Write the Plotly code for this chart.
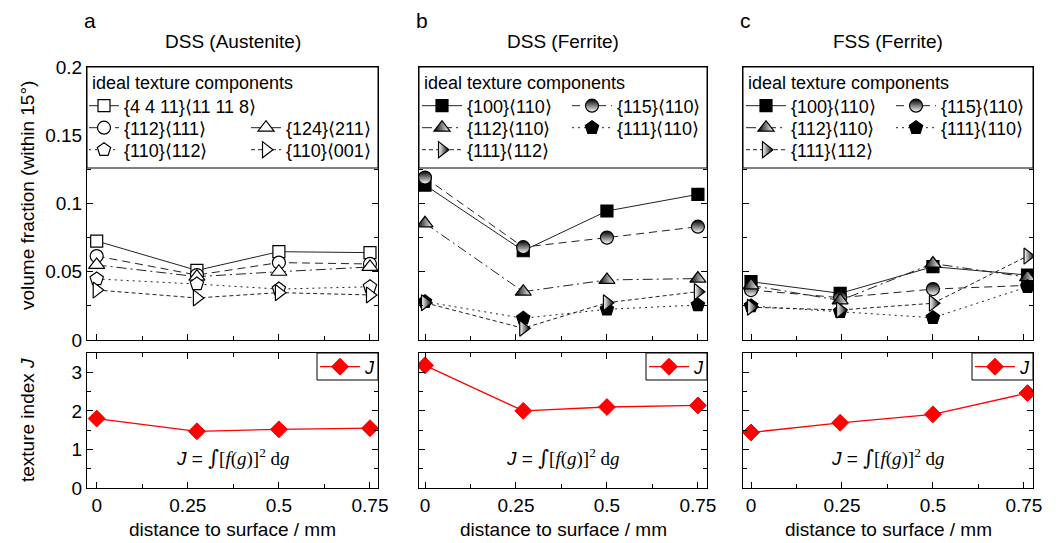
import plotly.graph_objects as go

# page body has an 8px margin, so the figure is drawn 8px lower/right
OFF = 8
W, H = 1058 - OFF, 543 - OFF

# ---------------- data ----------------
dist_a = [0, 0.275, 0.5, 0.75]
dist_b = [0, 0.27, 0.5, 0.75]
dist_c = [0, 0.245, 0.5, 0.76]

names_a = ["{4 4 11}⟨11 11 8⟩", "{112}⟨111⟩", "{124}⟨211⟩", "{110}⟨112⟩", "{110}⟨001⟩"]
names_bc = ["{100}⟨110⟩", "{115}⟨110⟩", "{112}⟨110⟩", "{111}⟨110⟩", "{111}⟨112⟩"]

a_4411_11118 = [0.0725, 0.051, 0.0647, 0.064]
a_112_111 = [0.0615, 0.0476, 0.0567, 0.0557]
a_124_211 = [0.055, 0.0464, 0.050, 0.0535]
a_110_112 = [0.0447, 0.041, 0.0373, 0.039]
a_110_001 = [0.0366, 0.0308, 0.0347, 0.033]

b_100_110 = [0.1135, 0.0654, 0.0945, 0.1067]
b_115_110 = [0.119, 0.068, 0.075, 0.083]
b_112_110 = [0.0855, 0.0354, 0.044, 0.045]
b_111_110 = [0.028, 0.0159, 0.0225, 0.0256]
b_111_112 = [0.0273, 0.0086, 0.0273, 0.0354]

c_100_110 = [0.0427, 0.0342, 0.0537, 0.0476]
c_115_110 = [0.0366, 0.031, 0.0373, 0.040]
c_112_110 = [0.040, 0.029, 0.056, 0.046]
c_111_110 = [0.0249, 0.0207, 0.0163, 0.039]
c_111_112 = [0.024, 0.022, 0.0269, 0.0615]

J_a = [1.80, 1.47, 1.52, 1.55]
J_b = [3.18, 2.00, 2.10, 2.14]
J_c = [1.44, 1.69, 1.91, 2.46]

x_ticks = [0, 0.25, 0.5, 0.75]
x_ticktext = ["0", "0.25", "0.5", "0.75"]
vf_ticks = [0, 0.05, 0.1, 0.15, 0.2]
vf_ticktext = ["0", "0.05", "0.1", "0.15", "0.2"]
j_ticks = [0, 1, 2, 3]
j_ticktext = ["0", "1", "2", "3"]

panel_letters = ["a", "b", "c"]
panel_titles = ["DSS (Austenite)", "DSS (Ferrite)", "FSS (Ferrite)"]

# ---------------- layout geometry (page pixels) ----------------
FONT = "Liberation Sans, Arial, sans-serif"
cols_px = [(87, 378), (419, 707), (743, 1033)]
top_px = (67, 340)
bot_px = (353, 488)
x_ranges = [(-0.0266, 0.772), (-0.0165, 0.775), (-0.022, 0.775)]


def px(x):
    return (x - OFF) / W


def py(y):
    return 1 - (y - OFF) / H


LINE_COL = "#222222"
dashes = ["solid", "8px,5px", "10px,4px,2px,4px", "2px,4px", "4px,3px"]
sym_a = ["square", "circle", "triangle-up", "pentagon", "triangle-right"]
size_a = [12, 13, 14, 14, 14]

fig = go.Figure()

panel_series = [
    (dist_a, [a_4411_11118, a_112_111, a_124_211, a_110_112, a_110_001], names_a, J_a),
    (dist_b, [b_100_110, b_115_110, b_112_110, b_111_110, b_111_112], names_bc, J_b),
    (dist_c, [c_100_110, c_115_110, c_112_110, c_111_110, c_111_112], names_bc, J_c),
]

# legend text start (px from panel left) and row centre (px from top)
leg_rel_a = [(37, 106), (37, 128), (199, 128), (37, 150), (199, 150)]
leg_rel_bc = [(48, 106), (198, 106), (48, 128), (198, 128), (48, 150)]
ITEMW = [30, 40, 40]

legends = {}
leg_count = [1]


def new_legend(**kw):
    leg_count[0] += 1
    key = f"legend{leg_count[0]}"
    legends[key] = kw
    return key


for p, (xs, series, names, J) in enumerate(panel_series):
    top_x = "x" if p == 0 else f"x{2*p+1}"
    top_y = "y" if p == 0 else f"y{2*p+1}"
    bot_x = f"x{2*p+2}"
    bot_y = f"y{2*p+2}"
    rel = leg_rel_a if p == 0 else leg_rel_bc
    left = cols_px[p][0]
    iw = ITEMW[p]
    for i, (vals, name) in enumerate(zip(series, names)):
        if p == 0:
            marker = dict(symbol=sym_a[i], size=size_a[i], color="white",
                          line=dict(color="black", width=1.2))
        else:
            if i == 0:
                marker = dict(symbol="square", size=12, color="black",
                              line=dict(color="black", width=1.2))
            elif i == 1:
                # upper half dark, lower half light
                marker = dict(symbol="circle", size=13, color="black",
                              gradient=dict(type="vertical", color="white"),
                              line=dict(color="black", width=1.2))
            elif i == 2:
                # left half dark, right half light
                marker = dict(symbol="triangle-up", size=14, color="black",
                              gradient=dict(type="horizontal", color="white"),
                              line=dict(color="black", width=1.2))
            elif i == 3:
                marker = dict(symbol="pentagon", size=14, color="black",
                              line=dict(color="black", width=1.2))
            else:
                # left half light, right half dark
                marker = dict(symbol="triangle-right", size=14, color="white",
                              gradient=dict(type="horizontal", color="black"),
                              line=dict(color="black", width=1.2))
        tx, ty = rel[i]
        lg = new_legend(x=px(left + tx - iw - 10), y=py(ty), xanchor="left",
                        yanchor="middle", bgcolor="rgba(0,0,0,0)", borderwidth=0,
                        itemwidth=iw, font=dict(family=FONT, size=18, color="black"),
                        tracegroupgap=0)
        fig.add_trace(go.Scatter(x=xs, y=vals, mode="lines+markers", name=name,
                                 xaxis=top_x, yaxis=top_y, legend=lg,
                                 line=dict(color=LINE_COL, width=1, dash=dashes[i]),
                                 marker=marker))
    # J legend (its box is drawn as a shape below)
    lgJ = new_legend(x=px(cols_px[p][1] - 30), y=py(bot_px[0] + 14), xanchor="center",
                     yanchor="middle", bgcolor="rgba(0,0,0,0)", borderwidth=0, itemwidth=40,
                     font=dict(family=FONT, size=18, color="black"))
    fig.add_trace(go.Scatter(x=xs, y=J, mode="lines+markers", name="<i>J</i>",
                             xaxis=bot_x, yaxis=bot_y, legend=lgJ,
                             line=dict(color="#ff0000", width=1.3),
                             marker=dict(symbol="diamond", size=13, color="#ff0000",
                                         line=dict(color="#ff0000", width=1))))

layout = dict(width=W, height=H, margin=dict(l=0, r=0, t=0, b=0, autoexpand=False),
              autosize=False, showlegend=True,
              paper_bgcolor="white", plot_bgcolor="white",
              font=dict(family=FONT, size=19, color="black"))
layout.update(legends)

axis_common = dict(showline=True, linecolor="black", linewidth=1, mirror="ticks",
                   ticks="inside", ticklen=6, tickwidth=1, tickcolor="black",
                   showgrid=False, zeroline=False,
                   tickfont=dict(family=FONT, size=19, color="black"))

shapes = []
annotations = []
for p in range(3):
    xl, xr = cols_px[p]
    xdom = [px(xl), px(xr)]
    tdom = [py(top_px[1]), py(top_px[0])]
    bdom = [py(bot_px[1]), py(bot_px[0])]
    ti = 2 * p + 1
    bi = 2 * p + 2
    tname_x = "xaxis" if ti == 1 else f"xaxis{ti}"
    tname_y = "yaxis" if ti == 1 else f"yaxis{ti}"
    ty_ref = "y" if ti == 1 else f"y{ti}"
    tx_ref = "x" if ti == 1 else f"x{ti}"
    minor_x = dict(tickvals=[0.125, 0.375, 0.625], ticklen=4, ticks="inside", tickcolor="black")
    layout[tname_x] = dict(axis_common, domain=xdom, range=list(x_ranges[p]), anchor=ty_ref,
                           tickvals=x_ticks, ticktext=x_ticktext, showticklabels=False,
                           minor=minor_x)
    layout[tname_y] = dict(axis_common, domain=tdom, range=[0, 0.2], anchor=tx_ref,
                           tickvals=vf_ticks, ticktext=vf_ticktext, showticklabels=(p == 0),
                           minor=dict(tickvals=[0.025, 0.075, 0.125, 0.175], ticklen=4,
                                      ticks="inside", tickcolor="black"))
    layout[f"xaxis{bi}"] = dict(axis_common, domain=xdom, range=list(x_ranges[p]),
                                anchor=f"y{bi}", tickvals=x_ticks, ticktext=x_ticktext,
                                showticklabels=True, minor=minor_x)
    layout[f"yaxis{bi}"] = dict(axis_common, domain=bdom, range=[0, 3.5], anchor=f"x{bi}",
                                tickvals=j_ticks, ticktext=j_ticktext, showticklabels=(p == 0),
                                minor=dict(tickvals=[0.5, 1.5, 2.5], ticklen=4,
                                           ticks="inside", tickcolor="black"))
    # legend box covering the top of the volume-fraction panel
    shapes.append(dict(type="rect", xref=f"{tx_ref} domain", yref=ty_ref, x0=0, x1=1,
                       y0=0.126, y1=0.2, fillcolor="white", line=dict(color="black", width=1),
                       layer="above"))
    # J legend box (top-right corner of texture index panel)
    shapes.append(dict(type="rect", xref=f"x{bi} domain", yref=f"y{bi} domain",
                       x0=1 - 61 / (xr - xl), x1=1, y0=1 - 27 / (bot_px[1] - bot_px[0]), y1=1,
                       fillcolor="white", line=dict(color="black", width=1), layer="above"))
    annotations.append(dict(text="ideal texture components", xref="paper", yref="paper",
                            x=px(xl + 3), y=py(83), xanchor="left", yanchor="middle",
                            showarrow=False, font=dict(family=FONT, size=18, color="black")))
    annotations.append(dict(text="<i>J</i> = <span style='font-family:DejaVu Serif;font-size:21px'>∫</span>"
                                 "<span style='font-family:Liberation Serif'>[<i>f</i>(<i>g</i>)]<sup>2</sup> d<i>g</i></span>",
                            xref=f"x{bi} domain", yref=f"y{bi}", x=0.5, y=0.8,
                            xanchor="center", yanchor="middle", showarrow=False,
                            font=dict(family=FONT, size=19, color="black")))
    annotations.append(dict(text=panel_titles[p], xref="paper", yref="paper",
                            x=px((xl + xr) / 2), y=py(42), xanchor="center", yanchor="middle",
                            showarrow=False, font=dict(family=FONT, size=19, color="black")))
    annotations.append(dict(text=panel_letters[p], xref="paper", yref="paper",
                            x=px(xl - 5), y=py(21), xanchor="left", yanchor="middle",
                            showarrow=False, font=dict(family=FONT, size=21, color="black")))
    annotations.append(dict(text="distance to surface / mm", xref="paper", yref="paper",
                            x=px((xl + xr) / 2), y=py(529), xanchor="center", yanchor="middle",
                            showarrow=False, font=dict(family=FONT, size=19, color="black")))

annotations.append(dict(text="volume fraction (within 15°)", xref="paper", yref="paper",
                        x=px(27), y=py(196), xanchor="center", yanchor="middle", textangle=-90,
                        showarrow=False, font=dict(family=FONT, size=19, color="black")))
annotations.append(dict(text="texture index <i>J</i>", xref="paper", yref="paper",
                        x=px(27), y=py(420), xanchor="center", yanchor="middle", textangle=-90,
                        showarrow=False, font=dict(family=FONT, size=19, color="black")))

layout["shapes"] = shapes
layout["annotations"] = annotations
fig.update_layout(**layout)
fig.write_html("out.html")
